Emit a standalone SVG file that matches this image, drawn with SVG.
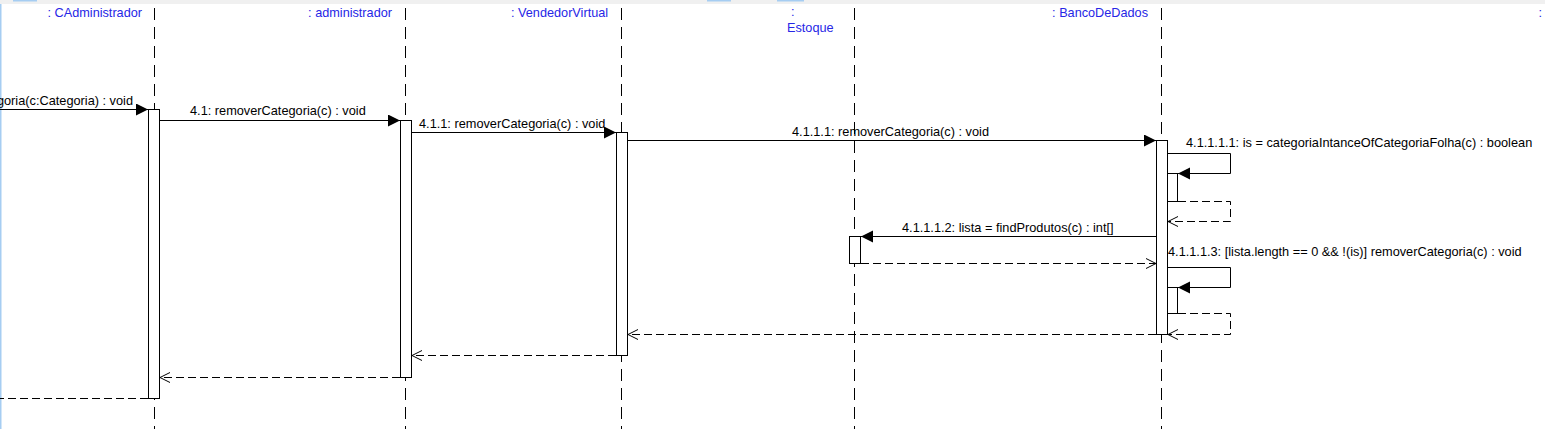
<svg xmlns="http://www.w3.org/2000/svg" width="1545" height="429" viewBox="0 0 1545 429">
<style>
.lbl{font-family:"Liberation Sans",Arial,sans-serif;font-size:12.7px;fill:#2626e6}
.msg{font-family:"Liberation Sans",Arial,sans-serif;font-size:12.75px;fill:#000}
.life{stroke:#000;stroke-width:1;stroke-dasharray:12 7;fill:none}
.bar{fill:#fff;stroke:#000;stroke-width:1}
.call{stroke:#000;stroke-width:1;fill:none;marker-end:url(#fa)}
.ret{stroke:#000;stroke-width:1;fill:none;stroke-dasharray:8 4;marker-end:url(#oa)}
</style>
<defs>
<marker id="fa" markerUnits="userSpaceOnUse" markerWidth="13" markerHeight="13" refX="12" refY="6" orient="auto"><path d="M0,0 L12,6 L0,12 z" fill="#000"/></marker>
<marker id="oa" markerUnits="userSpaceOnUse" markerWidth="12" markerHeight="12" refX="10" refY="5.5" orient="auto"><path d="M0,0.5 L10,5.5 L0,10.5" fill="none" stroke="#000" stroke-width="1"/></marker>
</defs>
<rect x="0" y="0" width="1545" height="429" fill="#fff"/>
<rect x="0" y="0" width="1545" height="4" fill="#f0f0f0"/>
<rect x="13" y="0" width="24" height="1.5" fill="#a6cdf2"/>
<rect x="707" y="0" width="24" height="1.5" fill="#a6cdf2"/>
<rect x="777" y="0" width="27" height="1.5" fill="#a6cdf2"/>
<rect x="0" y="4" width="1.5" height="425" fill="#a6cdf2"/>

<g id="lifelines">
<line class="life" x1="154.5" y1="8" x2="154.5" y2="429"/>
<line class="life" x1="405.5" y1="8" x2="405.5" y2="429"/>
<line class="life" x1="621.5" y1="8" x2="621.5" y2="429"/>
<line class="life" x1="854.5" y1="8" x2="854.5" y2="429"/>
<line class="life" x1="1161.5" y1="8" x2="1161.5" y2="429"/>
</g>

<g id="n-cadministrador">
<text class="lbl" x="142" y="17" text-anchor="end">: CAdministrador</text>
<rect class="bar" x="148.5" y="109.5" width="11" height="289"/>
</g>
<g id="n-administrador">
<text class="lbl" x="392" y="17" text-anchor="end">: administrador</text>
<rect class="bar" x="400.5" y="120.5" width="11" height="257"/>
</g>
<g id="n-vendedorvirtual">
<text class="lbl" x="511" y="17">: VendedorVirtual</text>
<rect class="bar" x="616.5" y="132.5" width="11" height="223"/>
</g>
<g id="n-estoque">
<text class="lbl" x="791" y="16">:</text>
<text class="lbl" x="787" y="32">Estoque</text>
<rect class="bar" x="849.5" y="236.5" width="11" height="27"/>
</g>
<g id="n-bancodedados">
<text class="lbl" x="1148" y="17" text-anchor="end">: BancoDeDados</text>
<rect class="bar" x="1156.5" y="140.5" width="11" height="194"/>
<rect class="bar" x="1167.5" y="173.5" width="10" height="28"/>
<rect class="bar" x="1167.5" y="287.5" width="10" height="26"/>
</g>
<g id="n-unnamed">
<text class="lbl" x="1542" y="17" text-anchor="end">:</text>
</g>

<g id="connectors">
<line class="call" x1="0" y1="109.5" x2="148" y2="109.5"/>
<text class="msg" x="133" y="105" text-anchor="end">goria(c:Categoria) : void</text>

<line class="call" x1="160" y1="120.5" x2="400" y2="120.5"/>
<text class="msg" x="190" y="115">4.1: removerCategoria(c) : void</text>

<line class="call" x1="412" y1="132.5" x2="616" y2="132.5"/>
<text class="msg" x="419" y="128">4.1.1: removerCategoria(c) : void</text>

<line class="call" x1="628" y1="140.5" x2="1156" y2="140.5"/>
<text class="msg" x="792" y="136">4.1.1.1: removerCategoria(c) : void</text>

<polyline class="call" points="1168,153.5 1230.5,153.5 1230.5,173.5 1178,173.5"/>
<text class="msg" x="1186" y="147">4.1.1.1.1: is = categoriaIntanceOfCategoriaFolha(c) : boolean</text>
<polyline class="ret" points="1178,201.5 1230.5,201.5 1230.5,221.5 1168,221.5"/>

<line class="call" x1="1156" y1="236.5" x2="861" y2="236.5"/>
<text class="msg" x="902" y="232">4.1.1.1.2: lista = findProdutos(c) : int[]</text>
<line class="ret" x1="861" y1="263.5" x2="1156" y2="263.5"/>

<polyline class="call" points="1168,267.5 1230.5,267.5 1230.5,287.5 1178,287.5"/>
<text class="msg" x="1168" y="256">4.1.1.1.3: [lista.length == 0 &amp;&amp; !(is)] removerCategoria(c) : void</text>
<polyline class="ret" points="1178,313.5 1230.5,313.5 1230.5,334.5 1168,334.5"/>

<line class="ret" x1="1156" y1="334.5" x2="628" y2="334.5"/>
<line class="ret" x1="616" y1="355.5" x2="412" y2="355.5"/>
<line class="ret" x1="400" y1="377.5" x2="160" y2="377.5"/>
<line x1="148" y1="398.5" x2="0" y2="398.5" stroke="#000" stroke-width="1" stroke-dasharray="8 4"/>
</g>
</svg>
